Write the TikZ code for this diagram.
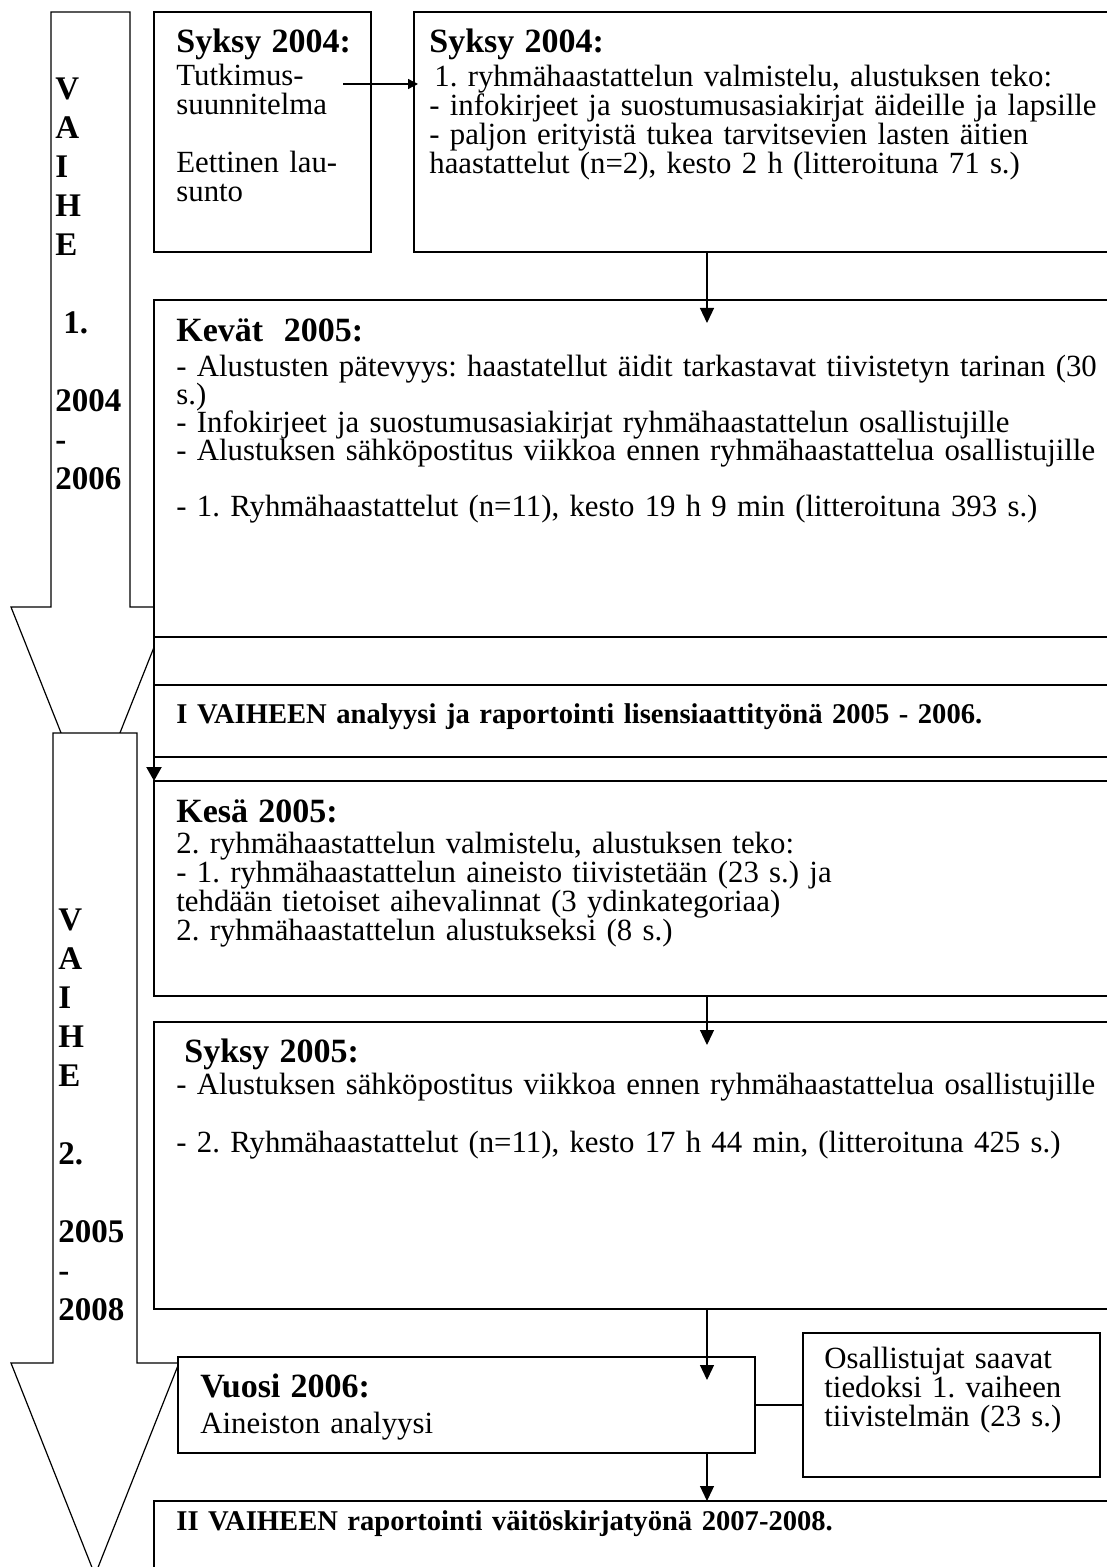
\documentclass[tikz,border=0pt]{standalone}
\usepackage{fontspec}
\setmainfont{Liberation Serif}
\usetikzlibrary{arrows.meta,calc}
\frenchspacing
\lineskiplimit=-100pt
\lineskip=0pt
% body text: size 15.4pt, the argument sets the line pitch
\newcommand\txtbody[1]{\fontsize{15.4}{#1}\selectfont\lineskiplimit=-100pt\lineskip=0pt}
\newcommand\txtbold{\fontsize{14.3}{14.5}\selectfont\bfseries}
\newcommand\txtphase{\fontsize{16.5}{19.5}\selectfont\bfseries\lineskiplimit=-100pt}
\newcommand\txthead[1]{{\fontsize{17}{16}\selectfont\bfseries #1}}
\begin{document}
\begin{tikzpicture}[x=0.5pt,y=-0.5pt,
  box/.style={draw,line width=0.75pt,fill=white,rectangle,inner sep=0pt,outer sep=0pt,anchor=north west},
  phase/.style={draw,line width=0.6pt,fill=white,line join=miter},
  txt/.style={anchor=base west,inner sep=0pt,align=left,text width=560pt,font=\txtbody{14.5pt}},
  tight/.style={font=\txtbody{14pt}},
  vtxt/.style={anchor=base west,inner sep=0pt,align=left,text width=40pt,font=\txtphase},
  link/.style={line width=0.6pt,-{Triangle[width=7pt,length=7.5pt]}},
  smalllink/.style={line width=0.6pt,-{Triangle[width=5pt,length=5pt]}},
  thicklink/.style={line width=1.1pt,-{Triangle[width=7.5pt,length=7pt]}},
  plain/.style={line width=0.6pt}]
\useasboundingbox (0,0) rectangle (1107,1567);

% the two phase arrows down the left side
\draw[phase] (51,12) -- (130,12) -- (130,607) -- (170,607) -- (90.5,807)
  -- (11,607) -- (51,607) -- cycle;
\draw[phase] (53,733) -- (137,733) -- (137,1363) -- (179,1363) -- (95,1575)
  -- (11,1363) -- (53,1363) -- cycle;

% boxes
\node[box,minimum width=108.5pt,minimum height=120pt] (A) at (154,12) {};
\node[box,minimum width=360pt,minimum height=120pt] (B) at (414,12) {};
\node[box,minimum width=490pt,minimum height=168.5pt] (C) at (154,300) {};
\node[box,minimum width=490pt,minimum height=24pt] (Cgap) at (154,637) {};
\node[box,minimum width=490pt,minimum height=36pt] (I) at (154,685) {};
\node[box,minimum width=490pt,minimum height=107.5pt] (D) at (154,781) {};
\node[box,minimum width=490pt,minimum height=143.5pt] (E) at (154,1022) {};
\node[box,minimum width=288.5pt,minimum height=48pt] (F) at (178,1357) {};
\node[box,minimum width=148.5pt,minimum height=72pt] (G) at (803,1333) {};
\node[box,minimum width=490pt,minimum height=50pt] (H) at (154,1501) {};

% phase labels
\node[vtxt] (p1) at (55,100) {V\\A\\I\\H\\E\\[19.5pt]\hspace*{4pt}1.\\[19.5pt]2004\\-\\2006};
\node[vtxt] (p2) at (58,930) {V\\A\\I\\H\\E\\[19.5pt]2.\\[19.5pt]2005\\-\\2008};

% box texts
\node[txt] (At) at (176,53) {\txthead{Syksy 2004:}\\[2pt]Tutkimus-\\suunnitelma\\[14.5pt]Eettinen lau-\\sunto};
\node[txt] (Bt) at (429,53) {\txthead{Syksy 2004:}\\[2.5pt]\hspace*{2.5pt}1. ryhmähaastattelun valmistelu, alustuksen teko:\\- infokirjeet ja suostumusasiakirjat äideille ja lapsille\\- paljon erityistä tukea tarvitsevien lasten äitien\\haastattelut (n=2), kesto 2 h (litteroituna 71 s.)};
\node[txt,tight] (Ct) at (176,342) {\txthead{Kevät\ \ 2005:}\\[3.5pt]- Alustusten pätevyys: haastatellut äidit tarkastavat tiivistetyn tarinan (30\\s.)\\- Infokirjeet ja suostumusasiakirjat ryhmähaastattelun osallistujille\\- Alustuksen sähköpostitus viikkoa ennen ryhmähaastattelua osallistujille\\[14pt]- 1. Ryhmähaastattelut (n=11), kesto 19 h 9 min (litteroituna 393 s.)};
\node[txt,font=\txtbold] (It) at (176,723) {I VAIHEEN analyysi ja raportointi lisensiaattityönä 2005 - 2006.};
\node[txt] (Dt) at (176,822) {\txthead{Kesä 2005:}\\[1pt]2. ryhmähaastattelun valmistelu, alustuksen teko:\\- 1. ryhmähaastattelun aineisto tiivistetään (23 s.) ja\\tehdään tietoiset aihevalinnat (3 ydinkategoriaa)\\2. ryhmähaastattelun alustukseksi (8 s.)};
\node[txt] (Et) at (176,1062) {\txthead{\hspace*{4pt}Syksy 2005:}\\[1.5pt]- Alustuksen sähköpostitus viikkoa ennen ryhmähaastattelua osallistujille\\[14.5pt]- 2. Ryhmähaastattelut (n=11), kesto 17 h 44 min, (litteroituna 425 s.)};
\node[txt] (Ft) at (200,1397) {\txthead{Vuosi 2006:}\\[3.5pt]Aineiston analyysi};
\node[txt] (Gt) at (824,1368) {Osallistujat saavat\\tiedoksi 1. vaiheen\\tiivistelmän (23 s.)};
\node[txt,font=\txtbold] (Ht) at (176,1530) {II VAIHEEN raportointi väitöskirjatyönä 2007-2008.};

% connectors
\coordinate (ax) at (707,0);
\coordinate (a1) at (343,84);
\draw[smalllink] (a1) -- ($(B.west |- a1)+(4,0)$);
\draw[link] (B.south -| ax) -- ($(C.north -| ax)+(0,23)$);
\draw[thicklink] (C.south west) -- (D.north west);
\draw[link] (D.south -| ax) -- ($(E.north -| ax)+(0,23)$);
\draw[link] (E.south -| ax) -- ($(F.north -| ax)+(0,23)$);
\draw[plain] (F.east) -- (G.west);
\draw[link] (F.south -| ax) -- (H.north -| ax);
\end{tikzpicture}
\end{document}
